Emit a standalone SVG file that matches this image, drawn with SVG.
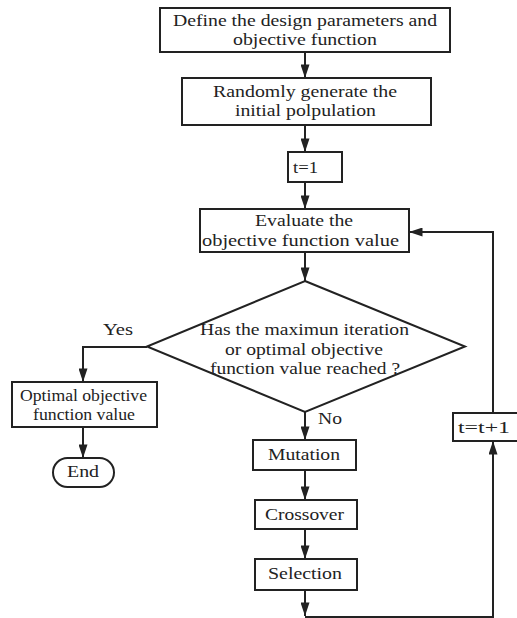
<svg xmlns="http://www.w3.org/2000/svg" width="517" height="618" viewBox="0 0 517 618" font-family="'Liberation Serif', 'DejaVu Serif', serif">
<style>
.n{fill:#fff;stroke:#222;stroke-width:2}
.t{font-family:'Liberation Serif','DejaVu Serif',serif;font-size:16px;fill:#222}
.c{stroke:#222;stroke-width:2;fill:none}
</style>
<defs>
<marker id="ah" viewBox="0 0 15 10" refX="15" refY="5" markerWidth="15" markerHeight="9" markerUnits="userSpaceOnUse" orient="auto">
<path d="M0,0 L15,5 L0,10 z" fill="#222"/>
</marker>
</defs>
<rect width="517" height="618" fill="#fff"/>
<g id="connectors">
<path class="c" d="M305,52 V78" marker-end="url(#ah)"/>
<path class="c" d="M305,125 V152" marker-end="url(#ah)"/>
<path class="c" d="M305,182 V209" marker-end="url(#ah)"/>
<path class="c" d="M305,252 V281" marker-end="url(#ah)"/>
<path class="c" d="M147,347 H83 V382" marker-end="url(#ah)"/>
<path class="c" d="M83,427 V458" marker-end="url(#ah)"/>
<path class="c" d="M305,412 V440" marker-end="url(#ah)"/>
<path class="c" d="M305,470 V500" marker-end="url(#ah)"/>
<path class="c" d="M305,529 V559" marker-end="url(#ah)"/>
<path class="c" d="M305,590 V616" marker-end="url(#ah)"/>
<path class="c" d="M305,617 H493 V441" marker-end="url(#ah)"/>
<path class="c" d="M493,413 V232 H409" marker-end="url(#ah)"/>
<text class="t" x="118" y="335" text-anchor="middle" textLength="30" lengthAdjust="spacingAndGlyphs">Yes</text>
<text class="t" x="318" y="424" textLength="24" lengthAdjust="spacingAndGlyphs">No</text>
</g>
<g id="define">
<rect class="n" x="160" y="8" width="290" height="44"/>
<text class="t" x="305" y="25.5" text-anchor="middle" textLength="264" lengthAdjust="spacingAndGlyphs">Define the design parameters and</text>
<text class="t" x="305" y="44.5" text-anchor="middle" textLength="144" lengthAdjust="spacingAndGlyphs">objective function</text>
</g>
<g id="generate">
<rect class="n" x="182" y="78" width="249" height="47"/>
<text class="t" x="305" y="97" text-anchor="middle" textLength="184" lengthAdjust="spacingAndGlyphs">Randomly generate the</text>
<text class="t" x="305.5" y="116" text-anchor="middle" textLength="141" lengthAdjust="spacingAndGlyphs">initial polpulation</text>
</g>
<g id="t1">
<rect class="n" x="288" y="152" width="54" height="30"/>
<text class="t" x="305.5" y="173" text-anchor="middle" textLength="25" lengthAdjust="spacingAndGlyphs">t=1</text>
</g>
<g id="evaluate">
<rect class="n" x="200" y="209" width="209" height="43"/>
<text class="t" x="304" y="226" text-anchor="middle" textLength="98" lengthAdjust="spacingAndGlyphs">Evaluate the</text>
<text class="t" x="300.5" y="246" text-anchor="middle" textLength="197" lengthAdjust="spacingAndGlyphs">objective function value</text>
</g>
<g id="decision">
<path class="n" d="M305,281 L465,346.5 L305,412 L147,346.5 Z"/>
<text class="t" x="304.5" y="335" text-anchor="middle" textLength="209" lengthAdjust="spacingAndGlyphs">Has the maximun iteration</text>
<text class="t" x="304" y="355" text-anchor="middle" textLength="158" lengthAdjust="spacingAndGlyphs">or optimal objective</text>
<text class="t" x="305" y="374" text-anchor="middle" textLength="190" lengthAdjust="spacingAndGlyphs">function value reached ?</text>
</g>
<g id="optimal">
<rect class="n" x="12" y="382" width="145" height="45"/>
<text class="t" x="83.5" y="401" text-anchor="middle" textLength="127" lengthAdjust="spacingAndGlyphs">Optimal objective</text>
<text class="t" x="84" y="420" text-anchor="middle" textLength="102" lengthAdjust="spacingAndGlyphs">function value</text>
</g>
<g id="end">
<rect class="n" x="53" y="458" width="61" height="29" rx="14.5" ry="14.5"/>
<text class="t" x="83" y="477" text-anchor="middle" textLength="32" lengthAdjust="spacingAndGlyphs">End</text>
</g>
<g id="mutation">
<rect class="n" x="253" y="440" width="103" height="30"/>
<text class="t" x="304" y="460" text-anchor="middle" textLength="72" lengthAdjust="spacingAndGlyphs">Mutation</text>
</g>
<g id="crossover">
<rect class="n" x="255" y="500" width="102" height="29"/>
<text class="t" x="304.5" y="520" text-anchor="middle" textLength="79" lengthAdjust="spacingAndGlyphs">Crossover</text>
</g>
<g id="selection">
<rect class="n" x="255" y="559" width="102" height="31"/>
<text class="t" x="305" y="579" text-anchor="middle" textLength="74" lengthAdjust="spacingAndGlyphs">Selection</text>
</g>
<g id="increment">
<rect class="n" x="453" y="413" width="80" height="28"/>
<text class="t" x="484" y="433" text-anchor="middle" textLength="52" lengthAdjust="spacingAndGlyphs">t=t+1</text>
</g>
</svg>
